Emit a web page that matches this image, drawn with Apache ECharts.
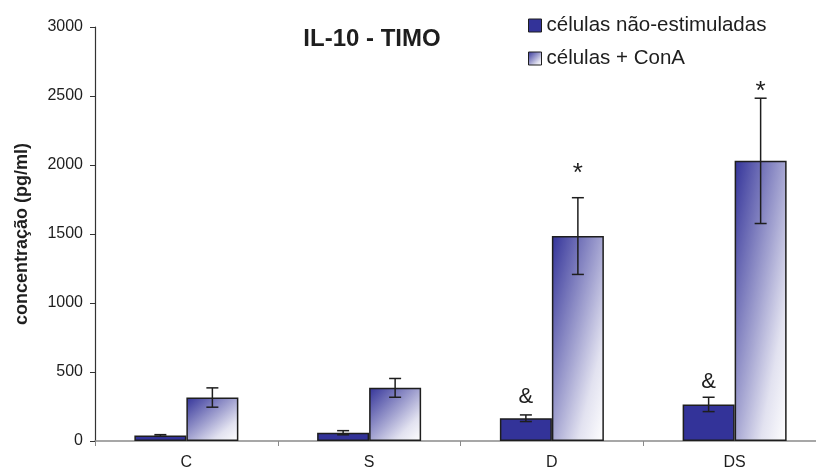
<!DOCTYPE html>
<html>
<head>
<meta charset="utf-8">
<script src="https://cdn.jsdelivr.net/npm/echarts@6/dist/echarts.min.js"></script>
<style>
  html, body { margin: 0; padding: 0; background: #ffffff; overflow: hidden; }
  /* the x axis runs past the right edge of the window */
  #chart { width: 830px; height: 472px; }
</style>
</head>
<body>
<div id="chart"></div>
<script>
// IL-10 concentration in thymus cells, per group
const categories = ['C', 'S', 'D', 'DS'];
const seriesNames = ['células não-estimuladas', 'células + ConA'];
const unstimulated = [40, 60, 165, 265];
const unstimulatedErr = [6, 15, 24, 52];
const conA = [315, 385, 1485, 2030];
const conAErr = [70, 68, 278, 454];
const yTickLabels = ['0', '500', '1000', '1500', '2000', '2500', '3000'];
// significance marks: category index, series index, symbol, value level it sits at
const markCategory = [2, 3, 2, 3];
const markSeries = [0, 0, 1, 1];
const markText = ['&', '&', '*', '*'];
const markLevel = [320, 430, 1990, 2580];

const FONT = '"Liberation Sans", Arial, Helvetica, sans-serif';
const BAR_W = 52;
const BLUE = '#333399';
const EDGE = '#1e1e1e';
const SHADE_STOPS = [
  { offset: 0, color: BLUE },
  { offset: 0.5, color: '#a6a6d2' },
  { offset: 0.75, color: '#e2e2f0' },
  { offset: 1, color: '#ffffff' }
];

const chart = echarts.init(document.getElementById('chart'), null, { renderer: 'canvas' });

const errData = [];
unstimulated.forEach((v, i) => errData.push([i, v, unstimulatedErr[i], -1]));
conA.forEach((v, i) => errData.push([i, v, conAErr[i], 1]));

const markData = markCategory.map((c, k) => [c, markLevel[k], markSeries[k] === 0 ? -1 : 1, k]);

function renderErr(params, api) {
  const i = api.value(0), m = api.value(1), e = api.value(2), side = api.value(3);
  const x = api.coord([i, 0])[0] + side * BAR_W / 2;
  const yTop = api.coord([i, m + e])[1];
  const yBot = api.coord([i, m - e])[1];
  const cap = 6;
  const st = { stroke: EDGE, lineWidth: 1.5 };
  return {
    type: 'group',
    children: [
      { type: 'line', shape: { x1: x, y1: yTop, x2: x, y2: yBot }, style: st },
      { type: 'line', shape: { x1: x - cap, y1: yTop, x2: x + cap, y2: yTop }, style: st },
      { type: 'line', shape: { x1: x - cap, y1: yBot, x2: x + cap, y2: yBot }, style: st }
    ]
  };
}

function renderMark(params, api) {
  const i = api.value(0), lvl = api.value(1), side = api.value(2), k = api.value(3);
  const p = api.coord([i, lvl]);
  const t = markText[k];
  const isStar = t === '*';
  return {
    type: 'text',
    x: p[0] + side * BAR_W / 2,
    y: p[1] + (isStar ? 7 : 0),
    style: {
      text: t,
      fill: '#1e1e1e',
      font: (isStar ? '26px ' : '22px ') + FONT,
      align: 'center',
      verticalAlign: 'middle'
    }
  };
}

chart.setOption({
  animation: false,
  backgroundColor: '#ffffff',
  title: {
    text: 'IL-10 - TIMO',
    left: 372,
    top: 27,
    textAlign: 'center',
    padding: 0,
    textStyle: { fontFamily: FONT, fontSize: 24, fontWeight: 'bold', color: '#1e1e1e' }
  },
  legend: {
    orient: 'vertical',
    left: 528,
    top: 15,
    padding: 0,
    icon: 'rect',
    itemWidth: 13,
    itemHeight: 13,
    itemGap: 12,
    data: seriesNames,
    textStyle: { fontFamily: FONT, fontSize: 20.5, color: '#1e1e1e' },
    itemStyle: { borderColor: EDGE, borderWidth: 1 }
  },
  grid: { left: 95, right: 4, top: 27, bottom: 31, containLabel: false },
  xAxis: {
    type: 'category',
    data: categories,
    axisLine: { lineStyle: { color: '#8a8a8a', width: 1.5 } },
    axisTick: { show: true, length: 5, lineStyle: { color: '#8a8a8a' } },
    axisLabel: { fontFamily: FONT, fontSize: 16, color: '#1e1e1e', margin: 14 },
    splitLine: { show: false }
  },
  yAxis: {
    type: 'value',
    min: 0,
    max: 3000,
    interval: 500,
    name: 'concentração (pg/ml)',
    nameLocation: 'middle',
    nameGap: 64,
    nameTextStyle: { fontFamily: FONT, fontSize: 18, fontWeight: 'bold', color: '#1e1e1e' },
    axisLine: { show: true, lineStyle: { color: '#333333', width: 1.2 } },
    axisTick: { show: true, length: 5, lineStyle: { color: '#333333' } },
    axisLabel: {
      fontFamily: FONT, fontSize: 16, color: '#1e1e1e', margin: 12,
      formatter: (v) => yTickLabels[Math.round(v / 500)]
    },
    splitLine: { show: false }
  },
  series: [
    {
      id: 'unstim',
      name: seriesNames[0],
      type: 'bar',
      barWidth: BAR_W,
      barGap: '0%',
      data: unstimulated,
      itemStyle: { color: BLUE, borderColor: EDGE, borderWidth: 1.5 },
      z: 2
    },
    {
      id: 'conA',
      name: seriesNames[1],
      type: 'bar',
      barWidth: BAR_W,
      barGap: '0%',
      data: conA,
      itemStyle: {
        color: new echarts.graphic.LinearGradient(0, 0, 1, 1, SHADE_STOPS),
        borderColor: EDGE,
        borderWidth: 1.5
      },
      z: 2
    },
    {
      id: 'errors',
      type: 'custom',
      renderItem: renderErr,
      data: errData,
      silent: true,
      z: 5
    },
    {
      id: 'marks',
      type: 'custom',
      renderItem: renderMark,
      data: markData,
      silent: true,
      clip: false,
      z: 6
    }
  ]
});

// Diagonal shading: colour follows (x/w + y/h)/2 inside each bar, so the
// gradient end point depends on the bar's pixel height.
const base = chart.convertToPixel({ xAxisIndex: 0, yAxisIndex: 0 }, [0, 0])[1];
const shaded = conA.map((v, i) => {
  const h = Math.max(1, base - chart.convertToPixel({ xAxisIndex: 0, yAxisIndex: 0 }, [i, v])[1]);
  const w = BAR_W;
  const s = w * w + h * h;
  return {
    value: v,
    itemStyle: {
      color: new echarts.graphic.LinearGradient(0, 0, 2 * h * h / s, 2 * w * w / s, SHADE_STOPS)
    }
  };
});
chart.setOption({ series: [{ id: 'conA', data: shaded }] });
</script>
</body>
</html>
